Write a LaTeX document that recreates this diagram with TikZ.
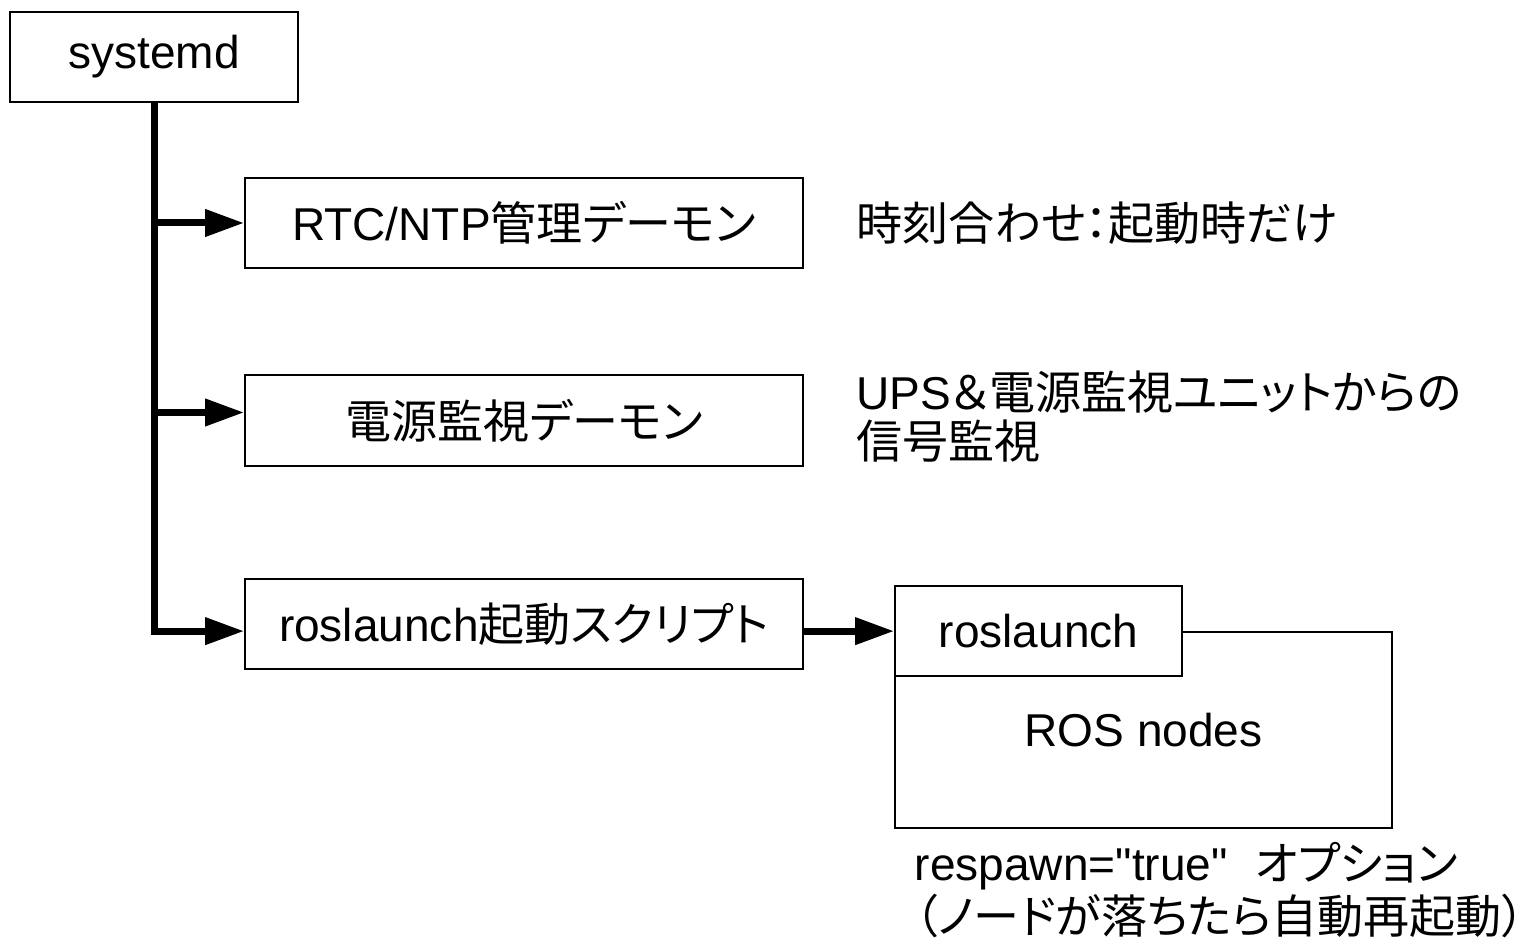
\documentclass[tikz,border=0pt]{standalone}
\usepackage{fontspec}
\setmainfont{Liberation Sans}[Ligatures=TeXOff]
\newfontfamily\jp{Noto Sans CJK JP}[RawFeature=+palt]
\usetikzlibrary{arrows.meta,positioning}

\tikzset{
  box/.style={draw, line width=0.5pt, fill=white, inner sep=0pt,
    minimum width=5.58cm, minimum height=0.9cm,
    font=\fontsize{13.1}{13.7}\selectfont},
  note/.style={align=left, inner sep=0pt,
    font=\fontsize{13.1}{13.7}\selectfont},
  spine/.style={line width=0.07cm},
  branch/.style={spine, -{Triangle[length=0.39cm, width=0.26cm]}},
}

\begin{document}
\begin{tikzpicture}

\useasboundingbox (0,0) rectangle (15.33,9.44);

% processes started by systemd
\node[box, minimum width=2.88cm] (sysd) at (1.54,8.87) {systemd};
\node[box] (rtc) at (5.24,7.21) {RTC/NTP{\jp 管理デーモン}};
\node[box, minimum height=0.91cm] (pwr) at (5.24,5.235) {{\jp 電源監視デーモン}};
\node[box] (script) at (5.24,3.20) {roslaunch{\jp 起動スクリプト}};

% roslaunch with its nodes
\node[box, minimum width=4.97cm, minimum height=1.96cm] (rosbox) at (11.435,2.14) {ROS nodes};
\node[box, minimum width=2.87cm, anchor=west] (rl) at (rosbox.north west) {roslaunch};

% arrows
\draw[branch] (sysd.south) -- (sysd.south |- rl.west) -- (script.west |- rl.west);
\draw[branch] (sysd.south |- rtc.west) -- (rtc.west);
\draw[branch] ([yshift=0.08cm]sysd.south |- pwr.west) -- ([yshift=0.08cm]pwr.west);
\draw[branch] (script.east |- rl.west) -- (rl.west);

% remarks
\node[note, anchor=west] (n1) at ([xshift=0.52cm]rtc.east) {{\jp 時刻合わせ：起動時だけ}};
\node[note, anchor=west] (n2) at ([xshift=0.52cm, yshift=0.04cm]pwr.east)
  {UPS{\jp ＆電源監視ユニットからの}\\{\jp 信号監視}};
\node[note, anchor=north west] (n3) at ([xshift=0.2cm, yshift=-0.13cm]rosbox.south west)
  {respawn="true"\hspace{0.6em}{\jp オプション}\\{\jp （ノードが落ちたら自動再起動）}};

\end{tikzpicture}
\end{document}
